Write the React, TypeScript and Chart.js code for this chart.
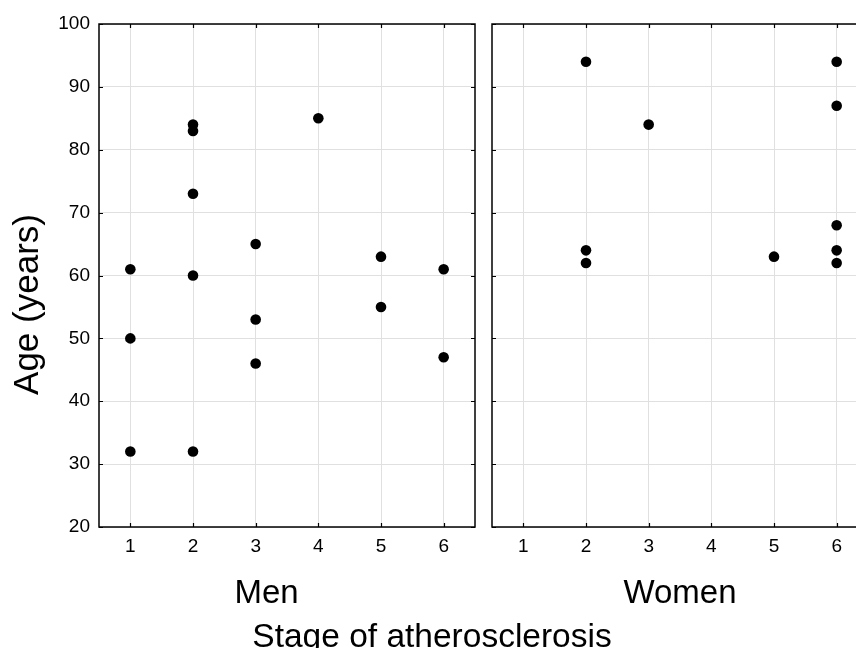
import React, { useEffect, useRef } from "react";
import { Chart, registerables } from "chart.js";

Chart.register(...registerables);

// ---- data ----
const stageTicks = [1, 2, 3, 4, 5, 6];
const ageTicks = [20, 30, 40, 50, 60, 70, 80, 90, 100];

const menStage = [1, 1, 1, 2, 2, 2, 2, 2, 3, 3, 3, 4, 5, 5, 6, 6];
const menAge = [61, 50, 32, 84, 83, 73, 60, 32, 65, 53, 46, 85, 63, 55, 61, 47];

const womenStage = [2, 2, 2, 3, 5, 6, 6, 6, 6, 6];
const womenAge = [94, 64, 62, 84, 63, 94, 87, 68, 64, 62];

const panelTitles = ["Men", "Women"];
const xTitle = "Stage of atherosclerosis";
const yTitle = "Age (years)";

const FONT = "'Liberation Sans', Arial, Helvetica, sans-serif";
const GRID = "#e0e0e0";

const framePlugin = {
  id: "frame",
  beforeDatasetsDraw(chart: any) {
    const { ctx, chartArea: a, scales } = chart;
    const x = scales.x;
    const y = scales.y;
    ctx.save();
    ctx.strokeStyle = "#000";
    ctx.lineWidth = 1.5;
    ctx.strokeRect(a.left, a.top, a.right - a.left, a.bottom - a.top);
    ctx.beginPath();
    const L = 4;
    stageTicks.forEach((v) => {
      const px = Math.round(x.getPixelForValue(v)) + 0.5;
      ctx.moveTo(px, a.bottom);
      ctx.lineTo(px, a.bottom - L);
      ctx.moveTo(px, a.top);
      ctx.lineTo(px, a.top + L);
    });
    ageTicks.forEach((v) => {
      const py = Math.round(y.getPixelForValue(v)) + 0.5;
      ctx.moveTo(a.left, py);
      ctx.lineTo(a.left + L, py);
      ctx.moveTo(a.right, py);
      ctx.lineTo(a.right - L, py);
    });
    ctx.lineWidth = 1.2;
    ctx.stroke();
    ctx.restore();
  },
};

const leftTitlesPlugin = {
  id: "leftTitles",
  afterDraw(chart: any) {
    const { ctx, chartArea: a } = chart;
    ctx.save();
    ctx.fillStyle = "#000";
    ctx.textAlign = "center";
    ctx.textBaseline = "alphabetic";
    ctx.font = `33px ${FONT}`;
    ctx.fillText(panelTitles[0], (a.left - 41 + a.right) / 2, a.bottom + 76);
    ctx.font = `33.5px ${FONT}`;
    ctx.fillText(xTitle, 432, a.bottom + 120);
    ctx.translate(38, (a.top + a.bottom) / 2 + 29);
    ctx.rotate(-Math.PI / 2);
    ctx.font = `35px ${FONT}`;
    ctx.fillText(yTitle, 0, 0);
    ctx.restore();
  },
};

const rightTitlesPlugin = {
  id: "rightTitles",
  afterDraw(chart: any) {
    const { ctx, chartArea: a } = chart;
    ctx.save();
    ctx.fillStyle = "#000";
    ctx.textAlign = "center";
    ctx.textBaseline = "alphabetic";
    ctx.font = `33px ${FONT}`;
    ctx.fillText(panelTitles[1], (a.left + a.right) / 2, a.bottom + 76);
    ctx.restore();
  },
};

function buildConfig(stages: number[], ages: number[], isLeft: boolean): any {
  const points = stages.map((s, i) => ({ x: s, y: ages[i] }));
  return {
    type: "scatter",
    data: {
      datasets: [
        {
          data: points,
          pointRadius: 5.3,
          pointHoverRadius: 5.3,
          backgroundColor: "#000",
          borderColor: "#000",
          borderWidth: 0,
        },
      ],
    },
    options: {
      responsive: false,
      animation: false,
      events: [],
      layout: {
        padding: isLeft
          ? { left: 0, right: 381, top: 24, bottom: 0 }
          : { left: 8, right: 16, top: 24, bottom: 0 },
      },
      plugins: {
        legend: { display: false },
        tooltip: { enabled: false },
        title: { display: false },
      },
      scales: {
        x: {
          type: "linear",
          min: 0.5,
          max: 6.5,
          afterBuildTicks: (s: any) => {
            s.ticks = stageTicks.map((v) => ({ value: v }));
          },
          afterFit: (s: any) => {
            s.height = 121;
          },
          grid: { color: GRID, lineWidth: 1, drawTicks: false },
          border: { display: false },
          ticks: {
            font: { family: FONT, size: 19 },
            color: "#000",
            padding: 8,
          },
        },
        y: {
          type: "linear",
          min: 20,
          max: 100,
          afterBuildTicks: (s: any) => {
            s.ticks = ageTicks.map((v) => ({ value: v }));
          },
          afterFit: (s: any) => {
            s.width = isLeft ? 99 : 0;
          },
          grid: { color: GRID, lineWidth: 1, drawTicks: false },
          border: { display: false },
          ticks: {
            display: isLeft,
            font: { family: FONT, size: 19 },
            color: "#000",
            padding: 9,
          },
        },
      },
    },
    plugins: [framePlugin, isLeft ? leftTitlesPlugin : rightTitlesPlugin],
  };
}

export default function App() {
  const leftRef = useRef<HTMLCanvasElement | null>(null);
  const rightRef = useRef<HTMLCanvasElement | null>(null);

  useEffect(() => {
    if (!leftRef.current || !rightRef.current) return;
    const c1 = new Chart(leftRef.current, buildConfig(menStage, menAge, true));
    const c2 = new Chart(rightRef.current, buildConfig(womenStage, womenAge, false));
    return () => {
      c1.destroy();
      c2.destroy();
    };
  }, []);

  return (
    <div
      style={{
        position: "fixed",
        left: 0,
        top: 0,
        width: 856,
        height: 648,
        overflow: "hidden",
        background: "#fff",
      }}
    >
      <canvas
        ref={leftRef}
        width={856}
        height={648}
        style={{ position: "absolute", left: 0, top: 0, width: 856, height: 648 }}
      />
      <canvas
        ref={rightRef}
        width={400}
        height={648}
        style={{ position: "absolute", left: 484, top: 0, width: 400, height: 648 }}
      />
    </div>
  );
}
